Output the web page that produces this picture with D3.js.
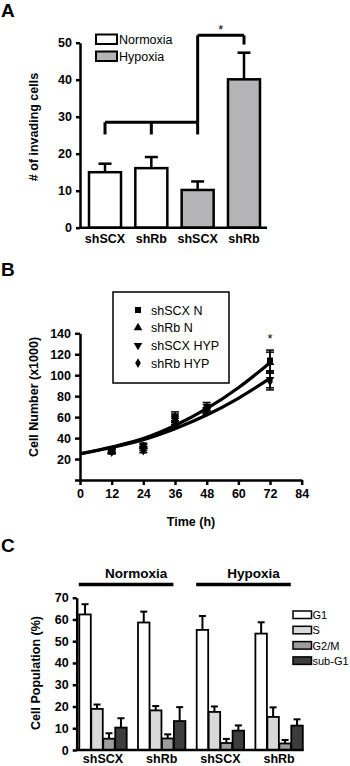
<!DOCTYPE html>
<html>
<head>
<meta charset="utf-8">
<script src="https://cdn.jsdelivr.net/npm/d3@7/dist/d3.min.js"></script>
<style>
  html, body { margin: 0; padding: 0; background: #fff; }
  svg { display: block; font-family: "Liberation Sans", Arial, sans-serif; }
  .axis path, .axis line { stroke: #000; }
  .axis text { font-weight: bold; font-size: 12.5px; fill: #000; font-family: "Liberation Sans", Arial, sans-serif; }
</style>
</head>
<body>
<svg id="chart" width="350" height="766"></svg>
<script>
// ---------- Panel A data ----------
const aCategories = ["shSCX", "shRb", "shSCX", "shRb"];
const aConditions = ["Normoxia", "Normoxia", "Hypoxia", "Hypoxia"];
const aMeans = [15, 16.1, 10.2, 40.1];
const aErrors = [2.3, 3.0, 2.3, 7.2];
const aTicks = [0, 10, 20, 30, 40, 50];

// ---------- Panel B data ----------
const bTimes = [12, 24, 36, 48, 72];
const bSeriesNames = ["shSCX N", "shRb N", "shSCX HYP", "shRb HYP"];
const bShSCX_N = [29, 33, 60, 70, 114];
const bShRb_N = [28, 32, 58, 68, 112];
const bShSCX_HYP = [27, 30, 55, 66, 96];
const bShRb_HYP = [27, 28, 57, 66, 94];
const bErrN = [2, 2, 5, 4, 10];
const bErrHYP = [2, 2, 4, 3, 8];
const bFitTimes = [0, 12, 24, 36, 48, 60, 72];
const bFitNormoxia = [25, 31.5, 39.5, 52, 68, 88, 112];
const bFitHypoxia = [25, 31, 38.5, 49, 62, 78, 97];
const bXTicks = [0, 12, 24, 36, 48, 60, 72, 84];
const bYTicks = [0, 20, 40, 60, 80, 100, 120, 140];

// ---------- Panel C data ----------
const cGroups = ["shSCX", "shRb", "shSCX", "shRb"];
const cPhases = ["G1", "S", "G2/M", "sub-G1"];
const cG1 = [62.3, 58.6, 55.2, 53.5];
const cS = [18.9, 18.2, 17.5, 15.2];
const cG2M = [5.2, 5.3, 3.2, 3.0];
const cSubG1 = [10.3, 13.3, 8.9, 11.2];
const cG1Err = [4.7, 5.0, 6.4, 5.2];
const cSErr = [2.0, 2.0, 2.5, 4.4];
const cG2MErr = [2.5, 1.9, 1.9, 1.6];
const cSubG1Err = [4.3, 6.4, 2.4, 2.9];
const cTicks = [0, 10, 20, 30, 40, 50, 60, 70];

const svg = d3.select("#chart");
const FONT = "'Liberation Sans', Arial, sans-serif";

function panelLabel(t, x, y) {
  svg.append("text").attr("x", x).attr("y", y).text(t)
    .attr("font-family", FONT).attr("font-weight", "bold").attr("font-size", 19);
}

// ======================= PANEL A =======================
panelLabel("A", 1, 17);
{
  const y = d3.scaleLinear().domain([0, 50]).range([227.7, 42.7]);
  const x = d3.scaleBand().domain(d3.range(aMeans.length)).range([89, 89 + 3 * 46.33 + 32])
    .paddingInner(0.309).paddingOuter(0);
  const colorA = d3.scaleOrdinal().domain(["Normoxia", "Hypoxia"]).range(["#ffffff", "#b4b4b7"]);

  const g = svg.append("g");
  aMeans.forEach((m, i) => {
    const cx = x(i) + x.bandwidth() / 2;
    g.append("line").attr("x1", cx).attr("x2", cx).attr("y1", y(m)).attr("y2", y(m + aErrors[i]))
      .attr("stroke", "#000").attr("stroke-width", 2.5);
    g.append("line").attr("x1", cx - 6.5).attr("x2", cx + 6.5).attr("y1", y(m + aErrors[i])).attr("y2", y(m + aErrors[i]))
      .attr("stroke", "#000").attr("stroke-width", 2.5);
  });
  g.selectAll("rect.bar").data(aMeans).join("rect")
    .attr("x", (d, i) => x(i)).attr("width", x.bandwidth())
    .attr("y", d => y(d)).attr("height", d => y(0) - y(d))
    .attr("fill", (d, i) => colorA(aConditions[i]))
    .attr("stroke", "#000").attr("stroke-width", 2.5);

  const ax = svg.append("g").attr("class", "axis").attr("transform", "translate(80,0)")
    .call(d3.axisLeft(y).tickValues(aTicks).tickSize(4).tickSizeOuter(0).tickPadding(4));
  ax.selectAll("path,line").attr("stroke-width", 2.5);
  svg.append("line").attr("x1", 78.75).attr("x2", 267).attr("y1", y(0)).attr("y2", y(0))
    .attr("stroke", "#000").attr("stroke-width", 2.5);

  aCategories.forEach((c, i) => {
    svg.append("text").attr("x", x(i) + x.bandwidth() / 2).attr("y", 242.5).attr("text-anchor", "middle")
      .attr("font-family", FONT).attr("font-weight", "bold").attr("font-size", 12.5).text(c);
  });

  svg.append("text").attr("transform", `translate(37.5,${127}) rotate(-90)`).attr("text-anchor", "middle")
    .attr("font-family", FONT).attr("font-weight", "bold").attr("font-size", 12.5).text("# of invading cells");

  const cx = i => x(i) + x.bandwidth() / 2;
  const bY = y(28.5), legY = y(25.2);
  const br = svg.append("g").attr("stroke", "#000").attr("stroke-width", 3).attr("fill", "none");
  br.append("line").attr("x1", cx(0)).attr("x2", cx(2)).attr("y1", bY).attr("y2", bY);
  [0, 1, 2].forEach(i => br.append("line").attr("x1", cx(i)).attr("x2", cx(i)).attr("y1", bY).attr("y2", legY));
  br.append("line").attr("x1", cx(2)).attr("x2", cx(2)).attr("y1", bY).attr("y2", y(52));
  br.append("line").attr("x1", cx(2)).attr("x2", cx(3)).attr("y1", y(52)).attr("y2", y(52));
  br.append("line").attr("x1", cx(3)).attr("x2", cx(3)).attr("y1", y(52)).attr("y2", y(49.5));
  svg.append("text").attr("x", (cx(2) + cx(3)) / 2).attr("y", 34).attr("text-anchor", "middle")
    .attr("font-family", FONT).attr("font-size", 13).text("*");

  ["Normoxia", "Hypoxia"].forEach((c, i) => {
    svg.append("rect").attr("x", 96).attr("y", 34.5 + i * 17).attr("width", 21).attr("height", 9.5)
      .attr("fill", colorA(c)).attr("stroke", "#000").attr("stroke-width", 2);
    svg.append("text").attr("x", 119).attr("y", 44 + i * 17).attr("font-family", FONT)
      .attr("font-size", 12.5).text(c);
  });
}

// ======================= PANEL B =======================
panelLabel("B", 1, 276);
{
  const x = d3.scaleLinear().domain([0, 84]).range([80, 301.7]);
  const y = d3.scaleLinear().domain([0, 140]).range([480, 333.3]);

  const ay = svg.append("g").attr("class", "axis").attr("transform", "translate(80,0)")
    .call(d3.axisLeft(y).tickValues(bYTicks).tickSize(5).tickSizeOuter(0).tickPadding(4)
      .tickFormat(d => d === 0 ? "" : d));
  ay.selectAll("path,line").attr("stroke-width", 2.5);
  const ax = svg.append("g").attr("class", "axis").attr("transform", "translate(0,480)")
    .call(d3.axisBottom(x).tickValues(bXTicks).tickSize(5).tickSizeOuter(0).tickPadding(4));
  ax.selectAll("path,line").attr("stroke-width", 2.5);

  svg.append("text").attr("x", 191).attr("y", 526).attr("text-anchor", "middle")
    .attr("font-family", FONT).attr("font-weight", "bold").attr("font-size", 12.5).text("Time (h)");
  svg.append("text").attr("transform", `translate(37.5,${397}) rotate(-90)`).attr("text-anchor", "middle")
    .attr("font-family", FONT).attr("font-weight", "bold").attr("font-size", 12.5).text("Cell Number (x1000)");

  const line = d3.line().x(d => x(d[0])).y(d => y(d[1])).curve(d3.curveMonotoneX);
  [bFitNormoxia, bFitHypoxia].forEach(fit => {
    svg.append("path").datum(bFitTimes.map((t, i) => [t, fit[i]]))
      .attr("d", line).attr("fill", "none").attr("stroke", "#000").attr("stroke-width", 3.2);
  });

  const series = [bShSCX_N, bShRb_N, bShSCX_HYP, bShRb_HYP];
  const errs = [bErrN, bErrN, bErrHYP, bErrHYP];
  const symbols = [d3.symbolSquare, d3.symbolTriangle, d3.symbolTriangle, d3.symbolDiamond];
  const rotations = [0, 0, 180, 0];
  const sizes = [36, 32, 32, 28];

  series.forEach((s, k) => {
    s.forEach((v, i) => {
      const px = x(bTimes[i]);
      const e = errs[k][i];
      svg.append("line").attr("x1", px).attr("x2", px).attr("y1", y(v - e)).attr("y2", y(v + e))
        .attr("stroke", "#000").attr("stroke-width", 1.5);
      [v - e, v + e].forEach(w => svg.append("line").attr("x1", px - 4).attr("x2", px + 4)
        .attr("y1", y(w)).attr("y2", y(w)).attr("stroke", "#000").attr("stroke-width", 1.5));
      svg.append("path").attr("d", d3.symbol().type(symbols[k]).size(sizes[k])())
        .attr("transform", `translate(${px},${y(v)}) rotate(${rotations[k]})`).attr("fill", "#000");
    });
  });
  svg.append("text").attr("x", x(72)).attr("y", 343).attr("text-anchor", "middle")
    .attr("font-family", FONT).attr("font-size", 13).text("*");

  svg.append("rect").attr("x", 113).attr("y", 292).attr("width", 116).attr("height", 91)
    .attr("fill", "#fff").attr("stroke", "#000").attr("stroke-width", 1.5);
  bSeriesNames.forEach((n, k) => {
    const ly = 310 + k * 17.7;
    svg.append("path").attr("d", d3.symbol().type(symbols[k]).size(sizes[k])())
      .attr("transform", `translate(138,${ly}) rotate(${rotations[k]})`).attr("fill", "#000");
    svg.append("text").attr("x", 151).attr("y", ly + 4.5).attr("font-family", FONT)
      .attr("font-size", 12.5).text(n);
  });
}

// ======================= PANEL C =======================
panelLabel("C", 1, 552);
{
  const y = d3.scaleLinear().domain([0, 70]).range([750, 597.7]);
  const x0 = d3.scaleBand().domain(d3.range(cGroups.length)).range([79.3, 302.8])
    .paddingInner(0.1925).paddingOuter(0);
  const x1 = d3.scaleBand().domain(cPhases).range([0, x0.bandwidth()]).paddingInner(0.04);
  const color = d3.scaleOrdinal().domain(cPhases).range(["#ffffff", "#d9d9d9", "#9d9d9d", "#3d3d3d"]);
  const vals = [cG1, cS, cG2M, cSubG1];
  const errs = [cG1Err, cSErr, cG2MErr, cSubG1Err];

  cGroups.forEach((gname, gi) => {
    cPhases.forEach((p, pi) => {
      const v = vals[pi][gi], e = errs[pi][gi];
      const bx = x0(gi) + x1(p), cx = bx + x1.bandwidth() / 2;
      svg.append("line").attr("x1", cx).attr("x2", cx).attr("y1", y(v)).attr("y2", y(v + e))
        .attr("stroke", "#000").attr("stroke-width", 2);
      svg.append("line").attr("x1", cx - 3.5).attr("x2", cx + 3.5).attr("y1", y(v + e)).attr("y2", y(v + e))
        .attr("stroke", "#000").attr("stroke-width", 2);
      svg.append("rect").attr("x", bx).attr("width", x1.bandwidth()).attr("y", y(v))
        .attr("height", y(0) - y(v)).attr("fill", color(p)).attr("stroke", "#000").attr("stroke-width", 1.8);
    });
    svg.append("text").attr("x", x0(gi) + x0.bandwidth() / 2).attr("y", 763).attr("text-anchor", "middle")
      .attr("font-family", FONT).attr("font-weight", "bold").attr("font-size", 12.5).text(gname);
  });

  const ay = svg.append("g").attr("class", "axis").attr("transform", "translate(76.7,0)")
    .call(d3.axisLeft(y).tickValues(cTicks).tickSize(4).tickSizeOuter(0).tickPadding(4));
  ay.selectAll("path,line").attr("stroke-width", 2.5);
  svg.append("line").attr("x1", 75.5).attr("x2", 303.5).attr("y1", y(0)).attr("y2", y(0))
    .attr("stroke", "#000").attr("stroke-width", 2.5);

  svg.append("text").attr("transform", `translate(40,${673}) rotate(-90)`).attr("text-anchor", "middle")
    .attr("font-family", FONT).attr("font-weight", "bold").attr("font-size", 12.5).text("Cell Population (%)");

  [["Normoxia", 0, 1], ["Hypoxia", 2, 3]].forEach(([name, a, b]) => {
    const xa = x0(a) - 0.5, xb = x0(b) + x0.bandwidth() - 12;
    svg.append("line").attr("x1", xa).attr("x2", xb).attr("y1", 584.5).attr("y2", 584.5)
      .attr("stroke", "#000").attr("stroke-width", 3.5);
    svg.append("text").attr("x", (xa + xb) / 2 + 10).attr("y", 578).attr("text-anchor", "middle")
      .attr("font-family", FONT).attr("font-weight", "bold").attr("font-size", 13.5).text(name);
  });

  cPhases.forEach((p, i) => {
    const ly = 611 + i * 15.3;
    svg.append("rect").attr("x", 293).attr("y", ly).attr("width", 18.5).attr("height", 7.5)
      .attr("fill", color(p)).attr("stroke", "#000").attr("stroke-width", 1.5);
    svg.append("text").attr("x", 312.5).attr("y", ly + 8).attr("font-family", FONT)
      .attr("font-size", 11).text(p);
  });
}
</script>
</body>
</html>
